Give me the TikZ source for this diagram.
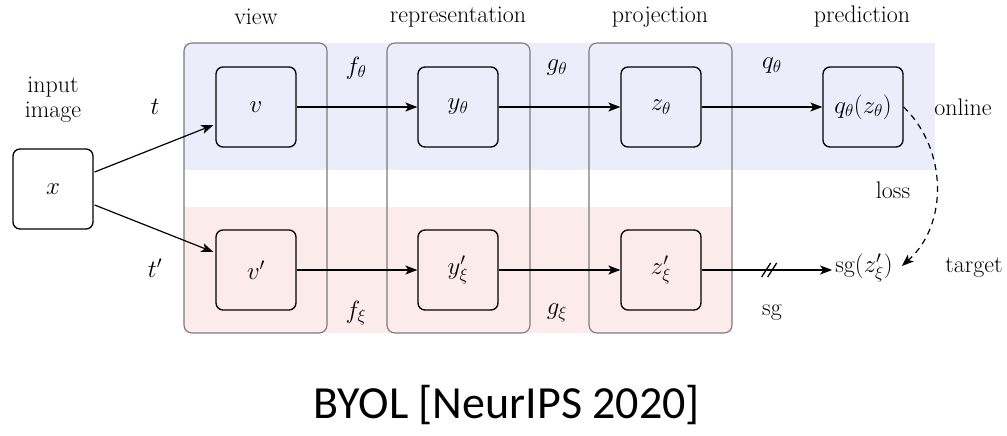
\documentclass[tikz,border=0pt]{standalone}
\usepackage{fontspec}
\newfontfamily\capfont{Carlito}
\usetikzlibrary{arrows.meta,calc}
\definecolor{onlinebg}{HTML}{ECEDFB}
\definecolor{targetbg}{HTML}{FBEBEA}
\definecolor{colframe}{HTML}{7A7A7A}
\tikzset{
  every node/.style={font=\fontsize{24}{28}\selectfont},
  stage/.style={draw=black, line width=1.3pt, rounded corners=7pt,
                minimum width=80pt, minimum height=80pt, inner sep=0pt},
  colbox/.style={draw=colframe, line width=1.1pt, rounded corners=8pt},
  flow/.style={line width=1.2pt, -{Stealth[length=12pt,width=9pt,inset=3pt]}},
  lossarc/.style={line width=1.2pt, dash pattern=on 6pt off 5pt,
                  -{Stealth[length=12pt,width=9pt,inset=3pt]}},
  plain/.style={inner sep=0pt}
}
\begin{document}
\begin{tikzpicture}[x=1pt,y=-1pt]
\useasboundingbox (0,0) rectangle (1007,436);

% shaded rows for the online and target branches
\fill[onlinebg] (184,43) rectangle (935,170);
\fill[targetbg] (184,207) rectangle (732,333);

% stage columns
\draw[colbox] (184,43) rectangle (327,333);
\draw[colbox] (387,43) rectangle (530,333);
\draw[colbox] (589,43) rectangle (732,333);

% column headings
\node[plain] (hview) at (256,17) {view};
\node[plain] (hrep)  at (458,17) {representation};
\node[plain] (hproj) at (660,17) {projection};
\node[plain] (hpred) at (862,17) {prediction};

% input
\node[align=center, inner sep=0pt] (inlbl) at (53,100) {input\\[-3pt]image};
\node[stage] (x) at (53,189) {$x$};

% online branch
\node[stage] (v)  at (256,107) {$v$};
\node[stage] (y)  at (458,107) {$y_\theta$};
\node[stage] (z)  at (661,107) {$z_\theta$};
\node[stage] (q)  at (863,107) {$q_\theta(z_\theta)$};

% target branch
\node[stage] (vp) at (256,270) {$v'$};
\node[stage] (yp) at (458,270) {$y'_\xi$};
\node[stage] (zp) at (661,270) {$z'_\xi$};
\node[inner sep=3pt] (sgz) at (864,268) {$\mathrm{sg}(z'_\xi)$};

% branch names
\node[plain] (online) at (963,107) {online};
\node[plain] (target) at (974,268) {target};
\node[plain] (loss)   at (893,190) {loss};

% transformation labels
\node[plain] (t)   at (155,107) {$t$};
\node[plain] (tp)  at (155,268) {$t'$};
\node[plain] (fth) at (356,68)  {$f_\theta$};
\node[plain] (gth) at (557,68)  {$g_\theta$};
\node[plain] (qth) at (772,66)  {$q_\theta$};
\node[plain] (fxi) at (356,313) {$f_\xi$};
\node[plain] (gxi) at (557,313) {$g_\xi$};
\node[plain] (sg)  at (772,313) {sg};

% connectors
\draw[flow] ($(x.east)+(1,-17)$) -- ($(v.west)+(-2,18)$);
\draw[flow] ($(x.east)+(1,16)$) -- ($(vp.west)+(-2,-18)$);
\draw[flow] (v) -- (y);
\draw[flow] (y) -- (z);
\draw[flow] (z) -- (q);
\draw[flow] (vp) -- (yp);
\draw[flow] (yp) -- (zp);
\draw[flow] (zp.east) -- (zp.east -| sgz.west);

% stop-gradient marks
\coordinate (cut) at ($(zp.east)+(68,0)$);
\draw[line width=1.3pt] ($(cut)+(-8,7)$) -- ($(cut)+(1,-7)$);
\draw[line width=1.3pt] ($(cut)+(-2,7)$) -- ($(cut)+(7,-7)$);

% loss between prediction and target projection
\draw[lossarc] (q.east) .. controls (948,150) and (948,225) .. ($(sgz.east)+(6,-2)$);

% caption
\node[font=\capfont\fontsize{46}{50}\selectfont, inner sep=0pt] (caption) at (507,405) {BYOL [NeurIPS 2020]};
\end{tikzpicture}
\end{document}
